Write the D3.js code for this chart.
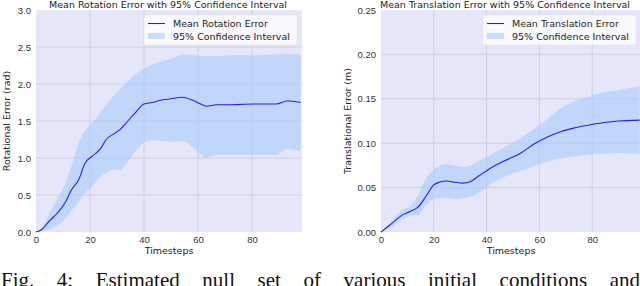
<!DOCTYPE html>
<html>
<head>
<meta charset="utf-8">
<script src="https://cdn.jsdelivr.net/npm/d3@7"></script>
<style>
  body { margin: 0; background: #fff; }
  svg { display: block; font-family: "DejaVu Sans", sans-serif; }
  .tick text { fill: #333; font-size: 9.5px; }
  .title, .axlabel { fill: #222; font-size: 9.5px; }
  .legend text { fill: #222; font-size: 9.5px; }
</style>
</head>
<body>
<svg id="chart" width="640" height="286"></svg>
<script>
// rotation chart data
const rotSteps = [0, 2, 5, 8, 11, 13, 16, 18, 21, 24, 26, 29, 31, 34, 37, 40, 43, 46, 50, 54, 58, 61, 63, 67, 72, 80, 89, 93, 98];
const rotMean  = [0, 0.03, 0.15, 0.26, 0.41, 0.56, 0.72, 0.92, 1.03, 1.13, 1.25, 1.33, 1.38, 1.50, 1.62, 1.73, 1.75, 1.78, 1.80, 1.82, 1.78, 1.73, 1.70, 1.72, 1.72, 1.73, 1.73, 1.77, 1.75];
const rotUpper = [0, 0.05, 0.25, 0.45, 0.67, 0.88, 1.22, 1.36, 1.48, 1.62, 1.72, 1.85, 1.93, 2.04, 2.14, 2.21, 2.26, 2.30, 2.34, 2.40, 2.39, 2.38, 2.38, 2.38, 2.39, 2.39, 2.40, 2.41, 2.40];
const rotLower = [0, 0.01, 0.03, 0.09, 0.18, 0.28, 0.42, 0.52, 0.63, 0.75, 0.80, 0.84, 0.84, 0.95, 1.10, 1.21, 1.24, 1.23, 1.22, 1.23, 1.15, 1.05, 1.00, 1.04, 1.04, 1.04, 1.04, 1.12, 1.09];

// translation chart data
const trSteps = [0, 3, 5, 8, 11, 14, 17, 20, 22, 25, 28, 31, 34, 37, 41, 46, 53, 58, 63, 68, 73, 78, 84, 90, 98];
const trMean  = [0, 0.007, 0.012, 0.019, 0.023, 0.028, 0.040, 0.053, 0.056, 0.0575, 0.056, 0.055, 0.057, 0.063, 0.071, 0.079, 0.089, 0.099, 0.107, 0.113, 0.117, 0.120, 0.123, 0.125, 0.126];
const trUpper = [0, 0.008, 0.015, 0.025, 0.029, 0.041, 0.060, 0.070, 0.074, 0.076, 0.075, 0.073, 0.075, 0.080, 0.086, 0.094, 0.106, 0.116, 0.127, 0.139, 0.147, 0.152, 0.157, 0.160, 0.164];
const trLower = [0, 0.004, 0.008, 0.014, 0.019, 0.019, 0.030, 0.037, 0.038, 0.038, 0.037, 0.038, 0.040, 0.044, 0.053, 0.061, 0.069, 0.074, 0.079, 0.083, 0.085, 0.087, 0.088, 0.089, 0.088];

const xTicks = [0, 20, 40, 60, 80];
const rotTicks = [0, 0.5, 1.0, 1.5, 2.0, 2.5, 3.0];
const trTicks = [0, 0.05, 0.10, 0.15, 0.20, 0.25];

const caption = "Fig. 4: Estimated null set of various initial conditions and";

const svg = d3.select('#chart');

function drawPanel(opts) {
    const x = d3.scaleLinear().domain([0, 98.5]).range([opts.left, opts.right]);
    const y = d3.scaleLinear().domain(opts.yDomain).range([232, 10]);
    const g = svg.append('g');

    g.append('rect')
        .attr('x', opts.left).attr('y', 10)
        .attr('width', opts.right - opts.left).attr('height', 222)
        .attr('fill', '#e6e6fa');

    // grid
    g.selectAll('.vgrid').data(xTicks.slice(1)).enter().append('line')
        .attr('x1', d => x(d)).attr('x2', d => x(d))
        .attr('y1', 10).attr('y2', 232)
        .attr('stroke', '#c9c9cf').attr('stroke-width', 0.8);
    g.selectAll('.hgrid').data(opts.ticks.slice(1, -1)).enter().append('line')
        .attr('x1', opts.left).attr('x2', opts.right)
        .attr('y1', d => y(d)).attr('y2', d => y(d))
        .attr('stroke', '#c9c9cf').attr('stroke-width', 0.8);

    const band = d3.area()
        .x((d, i) => x(opts.steps[i]))
        .y0((d, i) => y(opts.lower[i]))
        .y1((d, i) => y(opts.upper[i]))
        .curve(d3.curveMonotoneX);
    g.append('path').datum(opts.steps)
        .attr('d', band)
        .attr('fill', '#a9ccfb').attr('fill-opacity', 0.6);

    const line = d3.line()
        .x((d, i) => x(opts.steps[i]))
        .y((d, i) => y(opts.mean[i]))
        .curve(d3.curveMonotoneX);
    g.append('path').datum(opts.steps)
        .attr('d', line)
        .attr('fill', 'none').attr('stroke', '#1f1fff').attr('stroke-width', 1.1);

    // axes
    g.append('g').attr('transform', 'translate(0,232)')
        .call(d3.axisBottom(x).tickValues(xTicks).tickSize(0).tickPadding(4).tickFormat(d3.format('d')))
        .call(a => a.select('.domain').remove());
    g.append('g').attr('transform', 'translate(' + opts.left + ',0)')
        .call(d3.axisLeft(y).tickValues(opts.ticks).tickSize(0).tickPadding(5).tickFormat(d3.format(opts.fmt)))
        .call(a => a.select('.domain').remove());

    g.append('text').attr('class', 'axlabel')
        .attr('x', (opts.left + opts.right) / 2).attr('y', 254)
        .attr('text-anchor', 'middle').text('Timesteps');
    g.append('text').attr('class', 'axlabel')
        .attr('transform', 'translate(' + opts.ylx + ',121) rotate(-90)')
        .attr('text-anchor', 'middle').text(opts.ylabel);
    g.append('text').attr('class', 'title')
        .attr('x', opts.titleX).attr('y', 7.5)
        .attr('text-anchor', 'middle').text(opts.title);

    // legend
    const lg = g.append('g').attr('class', 'legend')
        .attr('transform', 'translate(' + opts.legX + ',15)');
    lg.append('rect').attr('width', 153).attr('height', 30).attr('rx', 2)
        .attr('fill', '#fff').attr('fill-opacity', 0.8).attr('stroke', '#e0e0e8').attr('stroke-width', 0.6);
    lg.append('line').attr('x1', 4).attr('x2', 21).attr('y1', 8.5).attr('y2', 8.5)
        .attr('stroke', '#1f1fff').attr('stroke-width', 1.1);
    lg.append('rect').attr('x', 4).attr('y', 18).attr('width', 17).attr('height', 6)
        .attr('fill', '#a9ccfb').attr('fill-opacity', 0.6);
    lg.append('text').attr('x', 29).attr('y', 12).text(opts.legLabel);
    lg.append('text').attr('x', 29).attr('y', 25).text('95% Confidence Interval');
}

drawPanel({
    left: 36, right: 302, yDomain: [0, 3], ticks: rotTicks, fmt: '.1f',
    steps: rotSteps, mean: rotMean, upper: rotUpper, lower: rotLower,
    ylabel: 'Rotational Error (rad)', ylx: 10, titleX: 168,
    title: 'Mean Rotation Error with 95% Confidence Interval',
    legX: 144, legLabel: 'Mean Rotation Error'
});

drawPanel({
    left: 381, right: 641, yDomain: [0, 0.25], ticks: trTicks, fmt: '.2f',
    steps: trSteps, mean: trMean, upper: trUpper, lower: trLower,
    ylabel: 'Translational Error (m)', ylx: 351, titleX: 505,
    title: 'Mean Translation Error with 95% Confidence Interval',
    legX: 483, legLabel: 'Mean Translation Error'
});

// justified caption: spread only the gaps between words
const cap = svg.append('text')
    .attr('x', 1).attr('y', 287)
    .style('font-family', '"Liberation Serif", serif').style('font-size', '21px').attr('fill', '#111')
    .text(caption);
const gaps = caption.split(' ').length - 1;
const extra = (639 - cap.node().getComputedTextLength()) / gaps;
cap.style('word-spacing', Math.max(0, extra) + 'px');
</script>
</body>
</html>
